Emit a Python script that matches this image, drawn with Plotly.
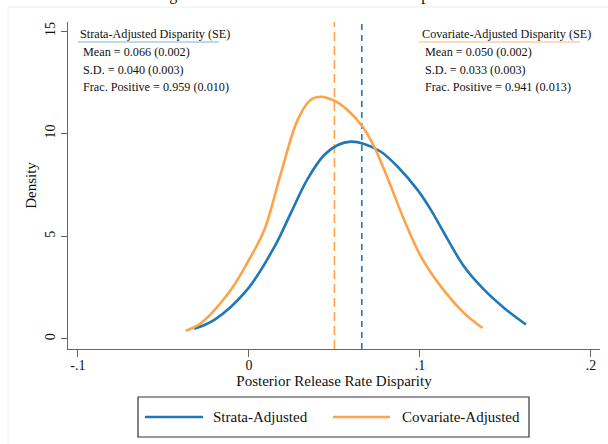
import plotly.graph_objects as go

# ---- data ----
strata_x = [-0.032, -0.020, -0.001, 0.015, 0.0245, 0.034, 0.044, 0.052, 0.0596, 0.0674,
            0.077, 0.087, 0.0986, 0.1064, 0.1141, 0.1258, 0.1375, 0.1492, 0.162]
strata_y = [0.49, 0.94, 2.40, 4.50, 6.13, 7.75, 8.96, 9.45, 9.61, 9.50,
            9.13, 8.39, 7.26, 6.29, 5.16, 3.53, 2.40, 1.51, 0.70]

covar_x = [-0.037, -0.028, -0.0105, -0.001, 0.009, 0.0187, 0.0285, 0.036, 0.042, 0.051,
           0.0577, 0.0665, 0.0732, 0.082, 0.0905, 0.1005, 0.1122, 0.1258, 0.1366]
covar_y = [0.40, 0.78, 2.40, 3.70, 5.32, 8.07, 10.67, 11.64, 11.80, 11.56,
           11.15, 10.34, 9.37, 7.65, 5.85, 4.02, 2.56, 1.26, 0.535]

series_names = ["Strata-Adjusted", "Covariate-Adjusted"]
series_means = [0.066, 0.050]
stat_headers = ["Strata-Adjusted Disparity (SE)", "Covariate-Adjusted Disparity (SE)"]
stat_lines = [
    ["Mean = 0.066 (0.002)", "S.D. = 0.040 (0.003)", "Frac. Positive = 0.959 (0.010)"],
    ["Mean = 0.050 (0.002)", "S.D. = 0.033 (0.003)", "Frac. Positive = 0.941 (0.013)"],
]

x_tickvals = [-0.1, 0, 0.1, 0.2]
x_ticktext = ["-.1", "0", ".1", ".2"]
y_tickvals = [0, 5, 10, 15]
y_ticktext = ["0", "5", "10", "15"]

title_text = "Figure 1: Observational Release Rate Disparities"
x_title = "Posterior Release Rate Disparity"
y_title = "Density"

# ---- styling ----
BLUE = "#1f78b8"
ORANGE = "#fca44a"
LIGHT = ["#a9cde9", "#f9cfa8"]
COLORS = [BLUE, ORANGE]
FONT = "Liberation Serif, Times New Roman, serif"
W, H = 608, 444
L, R, T, B = 68, 8, 22, 95
PH = H - T - B
PW = W - L - R


def px2px(px):
    return (px - L) / PW


def py2py(py):
    return (H - B - py) / PH


fig = go.Figure()
fig.add_trace(go.Scatter(x=strata_x, y=strata_y, mode="lines", name=series_names[0],
                         line=dict(color=BLUE, width=2.6, shape="spline", smoothing=1.0),
                         showlegend=False))
fig.add_trace(go.Scatter(x=covar_x, y=covar_y, mode="lines", name=series_names[1],
                         line=dict(color=ORANGE, width=2.6, shape="spline", smoothing=1.0),
                         showlegend=False))

shapes = []
# mean lines
dashes = ["6px,5px", "9px,5px"]
for m, c, d in zip(series_means, COLORS, dashes):
    shapes.append(dict(type="line", xref="x", yref="paper", x0=m, x1=m, y0=0, y1=1,
                       line=dict(color=c, width=1.6, dash=d), layer="below"))

annotations = []
# stat blocks
blocks_x = [78, 420]
for i in range(2):
    hx = blocks_x[i]
    annotations.append(dict(text=stat_headers[i], xref="paper", yref="paper",
                            x=px2px(hx), y=py2py(34), xanchor="left", yanchor="middle",
                            showarrow=False, font=dict(family=FONT, size=12.2, color="#111")))
    for j, ly in enumerate([52, 69.5, 87]):
        annotations.append(dict(text=stat_lines[i][j], xref="paper", yref="paper",
                                x=px2px(hx + 3), y=py2py(ly), xanchor="left", yanchor="middle",
                                showarrow=False, font=dict(family=FONT, size=12.2, color="#111")))
# underlines
for (x0, x1), c in zip([(78, 219), (419, 580)], LIGHT):
    shapes.append(dict(type="line", xref="paper", yref="paper", x0=px2px(x0), x1=px2px(x1),
                       y0=py2py(42), y1=py2py(42), line=dict(color=c, width=1.5)))

# title (cropped at top in the reference)
annotations.append(dict(text=title_text, xref="paper", yref="paper", x=px2px(312), y=py2py(-5),
                        xanchor="center", yanchor="middle", showarrow=False,
                        font=dict(family=FONT, size=16, color="#111")))

# manual legend
shapes.append(dict(type="rect", xref="paper", yref="paper", x0=px2px(138), x1=px2px(529),
                   y0=py2py(437), y1=py2py(397), line=dict(color="#333", width=1.2),
                   fillcolor="white"))
leg_lines = [(145, 203), (333, 390)]
leg_text_x = [211, 400]
for i in range(2):
    shapes.append(dict(type="line", xref="paper", yref="paper", x0=px2px(leg_lines[i][0]),
                       x1=px2px(leg_lines[i][1]), y0=py2py(417), y1=py2py(417),
                       line=dict(color=COLORS[i], width=2.6)))
    annotations.append(dict(text=series_names[i], xref="paper", yref="paper",
                            x=px2px(leg_text_x[i]), y=py2py(417), xanchor="left", yanchor="middle",
                            showarrow=False, font=dict(family=FONT, size=15, color="#111")))

# faint outer frame
shapes.append(dict(type="line", xref="paper", yref="paper", x0=px2px(8), x1=px2px(8),
                   y0=py2py(444), y1=py2py(7), line=dict(color="#ececec", width=1)))
shapes.append(dict(type="line", xref="paper", yref="paper", x0=px2px(8), x1=px2px(608),
                   y0=py2py(7), y1=py2py(7), line=dict(color="#ececec", width=1)))

fig.update_layout(
    width=W, height=H,
    margin=dict(l=L, r=R, t=T, b=B),
    paper_bgcolor="white", plot_bgcolor="white",
    font=dict(family=FONT, size=14, color="#111"),
    shapes=shapes, annotations=annotations,
    showlegend=False,
)
fig.update_xaxes(range=[-0.1058, 0.2053], tickvals=x_tickvals, ticktext=x_ticktext,
                 showgrid=False, zeroline=False, showline=True, linecolor="#666", linewidth=1.3,
                 ticks="outside", ticklen=7, tickcolor="#666", tickwidth=1.3,
                 ticklabelstandoff=-4, automargin=True,
                 tickfont=dict(family=FONT, size=14, color="#111"),
                 title=dict(text=x_title, font=dict(family=FONT, size=15, color="#111"), standoff=2))
fig.update_yaxes(range=[-0.49, 15.44], tickvals=y_tickvals, ticktext=y_ticktext,
                 showgrid=False, zeroline=False, showline=True, linecolor="#666", linewidth=1.3,
                 ticks="outside", ticklen=6, tickcolor="#666", tickwidth=1.3, tickangle=-90,
                 automargin=True,
                 tickfont=dict(family=FONT, size=14, color="#111"),
                 title=dict(text=y_title, font=dict(family=FONT, size=15, color="#111"), standoff=3))

fig.write_html("out.html", config={"displayModeBar": False},
               post_script="document.body.style.margin='0';document.body.style.overflow='hidden';")
